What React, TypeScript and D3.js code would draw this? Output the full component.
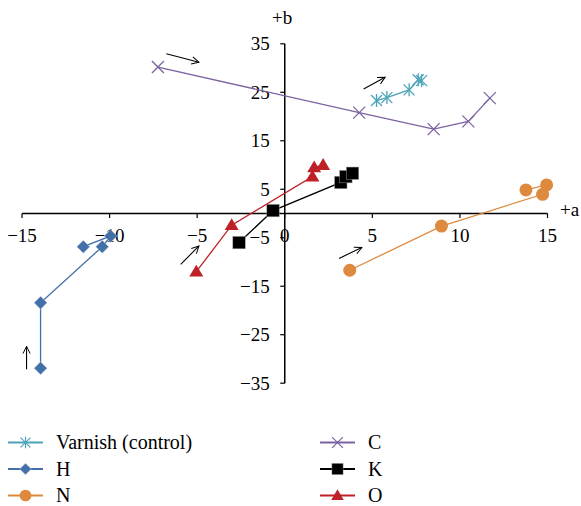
import React from "react";
import * as d3 from "d3";

const xTicks = [-15, -10, -5, 0, 5, 10, 15];
const yTicks = [35, 25, 15, 5, -5, -15, -25, -35];

const varnishA = [5.24, 5.83, 7.1, 7.62, 7.81];
const varnishB = [23.3, 23.9, 25.5, 27.6, 27.4];
const hA = [-13.94, -13.94, -10.42, -9.94, -11.5];
const hB = [-31.9, -18.4, -6.85, -4.65, -6.85];
const nA = [3.71, 8.95, 14.72, 14.95, 13.77];
const nB = [-11.7, -2.6, 3.96, 5.9, 4.86];
const cA = [-7.24, 4.25, 8.5, 10.48, 11.71];
const cB = [30.2, 20.8, 17.4, 19.0, 23.8];
const kA = [-2.61, -0.67, 3.2, 3.49, 3.87];
const kB = [-6.0, 0.6, 6.4, 7.6, 8.3];
const oA = [-5.05, -3.03, 1.58, 1.68, 2.19];
const oB = [-12.0, -2.4, 7.6, 9.5, 10.0];

const seriesNames = ["Varnish (control)", "H", "N", "C", "K", "O"];
const seriesColors = ["#4aa3b8", "#4470aa", "#dd8a3e", "#7b62a0", "#000000", "#be2128"];
const seriesShapes = ["asterisk", "diamond", "circle", "cross", "square", "triangle"];

// arrows: [a1, b1, a2, b2]
const arrows = [
  [-6.76, 32.95, -4.9, 31.2],
  [4.5, 25.7, 5.73, 28.1],
  [-14.74, -32.1, -14.74, -27.4],
  [-5.94, -10.5, -4.9, -6.7],
  [3.1, -9.26, 4.4, -7.0],
];

const FONT = "Liberation Serif";

function Marker({ shape, color, x, y }: { shape: string; color: string; x: number; y: number }) {
  const t = `translate(${x},${y})`;
  if (shape === "asterisk") {
    const s = 5.5;
    return (
      <g transform={t} stroke={color} strokeWidth={1.3}>
        <line x1={-s} y1={-s} x2={s} y2={s} />
        <line x1={-s} y1={s} x2={s} y2={-s} />
        <line x1={0} y1={-s - 1} x2={0} y2={s + 1} />
      </g>
    );
  }
  if (shape === "cross") {
    const s = 6;
    return (
      <g transform={t} stroke={color} strokeWidth={1.3}>
        <line x1={-s} y1={-s} x2={s} y2={s} />
        <line x1={-s} y1={s} x2={s} y2={-s} />
      </g>
    );
  }
  if (shape === "diamond") {
    const s = 6.5;
    return <path transform={t} d={`M0,${-s}L${s},0L0,${s}L${-s},0Z`} fill={color} stroke="#cfd8e6" strokeWidth={0.5} />;
  }
  if (shape === "circle") {
    return <circle cx={x} cy={y} r={6.5} fill={color} />;
  }
  if (shape === "square") {
    const s = 6.2;
    return <rect x={x - s} y={y - s} width={2 * s} height={2 * s} fill={color} stroke="#999" strokeWidth={0.5} />;
  }
  const s = 7;
  return <path transform={t} d={`M0,${-s}L${s},${s * 0.7}L${-s},${s * 0.7}Z`} fill={color} />;
}

export default function App() {
  const x = d3.scaleLinear().domain([-15, 15]).range([22, 547.5]);
  const y = d3.scaleLinear().domain([-35, 35]).range([383.2, 43.8]);
  const x0 = x(0);
  const y0 = y(0);

  const series = [
    [varnishA, varnishB],
    [hA, hB],
    [nA, nB],
    [cA, cB],
    [kA, kB],
    [oA, oB],
  ];

  const line = d3
    .line<[number, number]>()
    .x((d) => x(d[0]))
    .y((d) => y(d[1]));

  const order = [3, 1, 2, 4, 5, 0];

  return (
    <svg width={581} height={506} style={{ position: "absolute", left: 0, top: 0, display: "block" }} fontFamily={FONT}>
      <defs>
        <marker id="arr" viewBox="0 0 10 10" refX={9} refY={5} markerWidth={9} markerHeight={9} orient="auto" markerUnits="userSpaceOnUse">
          <path d="M1,1L9,5L1,9" fill="none" stroke="#000" strokeWidth={1.1} />
        </marker>
      </defs>
      <line x1={x(-15)} x2={x(15)} y1={y0} y2={y0} stroke="#000" strokeWidth={1.5} />
      <line x1={x0} x2={x0} y1={y(35)} y2={y(-35)} stroke="#000" strokeWidth={1.5} />
      {xTicks.map((t) => (
        <g key={"xt" + t}>
          <line x1={x(t)} x2={x(t)} y1={y0} y2={y0 + 4.5} stroke="#000" strokeWidth={1.2} />
          <text x={x(t)} y={y0 + 28} textAnchor="middle" fontSize={19} fill="#000" fontFamily={FONT}>
            {t < 0 ? "\u2212" + Math.abs(t) : String(t)}
          </text>
        </g>
      ))}
      {yTicks.map((t) => (
        <g key={"yt" + t}>
          <line x1={x0 - 4.5} x2={x0} y1={y(t)} y2={y(t)} stroke="#000" strokeWidth={1.2} />
          <text x={x0 - 15} y={y(t) + 6.5} textAnchor="end" fontSize={19} fill="#000" fontFamily={FONT}>
            {t < 0 ? "\u2212" + Math.abs(t) : String(t)}
          </text>
        </g>
      ))}
      <text x={272} y={24} fontSize={19} fill="#000" fontFamily={FONT}>+b</text>
      <text x={560} y={216} fontSize={19} fill="#000" fontFamily={FONT}>+a</text>

      {order.map((i) => {
        const [as, bs] = series[i];
        const pts: [number, number][] = as.map((a, j) => [a, bs[j]]);
        return (
          <g key={"s" + i}>
            <path d={line(pts) || ""} fill="none" stroke={seriesColors[i]} strokeWidth={1.3} />
            {pts.map((p, j) => (
              <Marker key={j} shape={seriesShapes[i]} color={seriesColors[i]} x={x(p[0])} y={y(p[1])} />
            ))}
          </g>
        );
      })}

      {arrows.map((a, i) => (
        <line key={"ar" + i} x1={x(a[0])} y1={y(a[1])} x2={x(a[2])} y2={y(a[3])} stroke="#000" strokeWidth={1.1} markerEnd="url(#arr)" />
      ))}

      {seriesNames.map((name, i) => {
        const col = i < 3 ? 0 : 1;
        const row = i % 3;
        const lx = col === 0 ? 8 : 320;
        const ly = 442.5 + row * 26.5;
        const mx = lx + 17.5;
        return (
          <g key={"lg" + i}>
            <line x1={lx} x2={lx + 35} y1={ly} y2={ly} stroke={seriesColors[i]} strokeWidth={1.8} />
            <g transform={`translate(${mx},${ly}) scale(0.9) translate(${-mx},${-ly})`}>
              <Marker shape={seriesShapes[i]} color={seriesColors[i]} x={mx} y={ly} />
            </g>
            <text x={lx + 48} y={ly + 6.5} fontSize={20} fill="#000" fontFamily={FONT}>{name}</text>
          </g>
        );
      })}
    </svg>
  );
}
